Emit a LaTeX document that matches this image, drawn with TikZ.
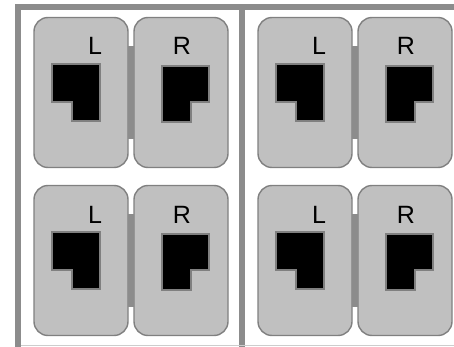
\documentclass[tikz,border=0pt]{standalone}
\usepackage{fontspec}
\setmainfont{Liberation Sans}
\usepackage{tikz}
\usetikzlibrary{positioning,calc}
\definecolor{rjBody}{RGB}{192,192,192}
\definecolor{rjEdge}{RGB}{128,128,128}
\definecolor{rjFrame}{RGB}{140,140,140}
\definecolor{rjRule}{RGB}{205,205,205}

\begin{document}
\begin{tikzpicture}[
    x=1pt, y=-1pt,
    half node/.style={rectangle, rounded corners=14pt, draw=rjEdge, line width=1.4pt, fill=rjBody, minimum width=94pt, minimum height=150pt, inner sep=0pt, outer sep=0pt},
    side label/.style={font=\fontsize{25}{25}\selectfont, anchor=base, inner sep=0pt},
    jack/.style={fill=black, draw=rjEdge, line width=1.2pt},
    hinge/.style={fill=rjFrame},
    frame line/.style={draw=rjFrame, line width=5.5pt}
]
  \useasboundingbox (0,0) rectangle (454,347);
  % frame and divider
  \draw[frame line] (454,7) -- (18,7) -- (18,347);
  \draw[frame line] (242,7) -- (242,347);
  \draw[rjRule, line width=1.5pt] (21,345.5) -- (454,345.5);

  \foreach \n/\dx/\dy in {1/0/0, 2/224/0, 3/0/168, 4/224/168} {
    \node[half node] (left\n) at (\dx+81,\dy+92.5) {};
    \node[half node] (right\n) [right=6pt of left\n] {};
    % hinge between the halves
    \fill[hinge] ($(left\n.east)+(0,-46.5)$) rectangle ($(right\n.west)+(0,46.5)$);
    \node[side label] (labL\n) at ($(left\n.north)+(14,37.5)$) {L};
    \node[side label] (labR\n) at ($(right\n.north)+(1,37.5)$) {R};
    % jacks
    \draw[jack] ($(left\n)+(-29,-28.5)$) -- ++(48,0) -- ++(0,57) -- ++(-28,0) -- ++(0,-19) -- ++(-20,0) -- cycle;
    \draw[jack] ($(right\n)+(-19,-26.5)$) -- ++(47,0) -- ++(0,36) -- ++(-18,0) -- ++(0,20) -- ++(-29,0) -- cycle;
  }
\end{tikzpicture}
\end{document}
